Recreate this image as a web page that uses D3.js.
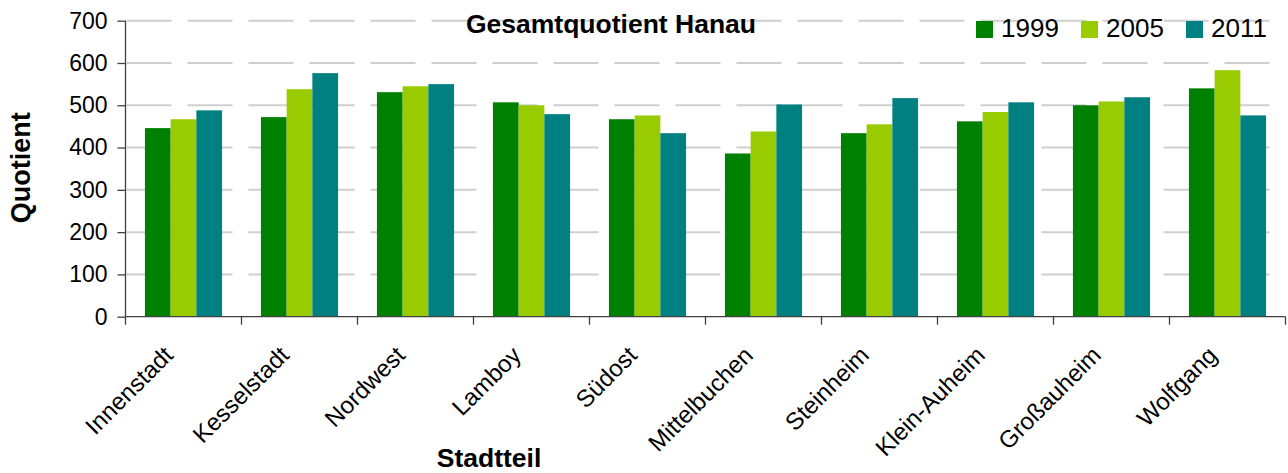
<!DOCTYPE html>
<html>
<head>
<meta charset="utf-8">
<script src="https://cdn.jsdelivr.net/npm/d3@7"></script>
<style>
  body { margin: 0; background: #fff; }
  svg { display: block; font-family: "Liberation Sans", Arial, sans-serif; }
</style>
</head>
<body>
<div id="chart"></div>
<script>
// Gesamtquotient je Stadtteil
const categories = ["Innenstadt", "Kesselstadt", "Nordwest", "Lamboy", "Südost",
  "Mittelbuchen", "Steinheim", "Klein-Auheim", "Großauheim", "Wolfgang"];
const years = ["1999", "2005", "2011"];
const values1999 = [446, 472, 531, 507, 467, 386, 434, 462, 500, 540];
const values2005 = [467, 538, 545, 500, 476, 438, 455, 484, 509, 583];
const values2011 = [488, 576, 550, 479, 434, 502, 517, 507, 519, 476];
const yTicks = [0, 100, 200, 300, 400, 500, 600, 700];
const colors = ["#008000", "#99cc00", "#008080"];

const series = [values1999, values2005, values2011];

const width = 1288, height = 473;
const margin = {top: 20.7, right: 2.5, bottom: 156.3, left: 125.5};

const svg = d3.select("#chart").append("svg")
    .attr("width", width)
    .attr("height", height);

const x0 = d3.scaleBand()
    .domain(categories)
    .range([margin.left, width - margin.right])
    .paddingInner(0.335)
    .paddingOuter(0.1675);

const x1 = d3.scaleBand()
    .domain(years)
    .range([0, x0.bandwidth()]);

const y = d3.scaleLinear()
    .domain([0, 700])
    .range([height - margin.bottom, margin.top]);

const y0 = y(0);
const step = x0.step();

// gridlines
svg.append("g")
  .selectAll("line")
  .data(yTicks.filter(d => d > 0))
  .join("line")
    .attr("x1", margin.left + 1)
    .attr("x2", width - margin.right)
    .attr("y1", d => y(d))
    .attr("y2", d => y(d))
    .attr("stroke", "#cfcfcf")
    .attr("stroke-width", 2)
    .attr("stroke-dasharray", "45,16");

// bars
const groups = svg.append("g")
  .selectAll("g")
  .data(categories)
  .join("g")
    .attr("transform", d => `translate(${x0(d)},0)`);

groups.selectAll("rect")
  .data((c, i) => years.map((yr, k) => ({yr, k, v: series[k][i]})))
  .join("rect")
    .attr("x", d => x1(d.yr))
    .attr("width", x1.bandwidth())
    .attr("y", d => y(d.v))
    .attr("height", d => y0 - y(d.v))
    .attr("fill", d => colors[d.k]);

// y axis
const yAxis = svg.append("g")
    .attr("transform", `translate(${margin.left},0)`)
    .call(d3.axisLeft(y).tickValues(yTicks).tickSize(8).tickPadding(10).tickFormat(d3.format("d")));
yAxis.selectAll("text").attr("font-size", 23).attr("fill", "#000");
yAxis.selectAll("line, path").attr("stroke", "#404040").attr("stroke-width", 1.3);
yAxis.select(".domain").attr("d", `M0,${y(700)}V${y0}`);

// x axis: line plus ticks at category boundaries
const xAxis = svg.append("g");
xAxis.append("line")
    .attr("x1", margin.left).attr("x2", width - margin.right)
    .attr("y1", y0).attr("y2", y0)
    .attr("stroke", "#404040").attr("stroke-width", 1.3);
const bounds = categories.map(c => x0(c) - step * x0.paddingInner() / 2)
    .concat([width - margin.right]);
xAxis.selectAll(".tick")
  .data(bounds)
  .join("line")
    .attr("class", "tick")
    .attr("x1", d => d).attr("x2", d => d)
    .attr("y1", y0).attr("y2", y0 + 8)
    .attr("stroke", "#404040").attr("stroke-width", 1.3);

xAxis.selectAll(".cat")
  .data(categories)
  .join("text")
    .attr("class", "cat")
    .attr("transform", d => `translate(${x0(d) + x0.bandwidth() / 2 - 9},${y0 + 40}) rotate(-45)`)
    .attr("text-anchor", "end")
    .attr("font-size", 24)
    .text(d => d);

// titles
svg.append("text")
    .attr("x", 611).attr("y", 33)
    .attr("text-anchor", "middle")
    .attr("font-size", 26.5).attr("font-weight", "bold")
    .text("Gesamtquotient Hanau");

svg.append("text")
    .attr("x", 489).attr("y", 467)
    .attr("text-anchor", "middle")
    .attr("font-size", 26.5).attr("font-weight", "bold")
    .text("Stadtteil");

svg.append("text")
    .attr("transform", `translate(30,${(y(700) + y0) / 2 - 1}) rotate(-90)`)
    .attr("text-anchor", "middle")
    .attr("font-size", 27).attr("font-weight", "bold")
    .text("Quotient");

// legend
const legend = svg.append("g")
  .selectAll("g")
  .data(years)
  .join("g")
    .attr("transform", (d, i) => `translate(${976 + i * 105},21)`);
legend.append("rect")
    .attr("width", 17).attr("height", 17)
    .attr("fill", (d, i) => colors[i]);
legend.append("text")
    .attr("x", 25).attr("y", 16)
    .attr("font-size", 26)
    .text(d => d);
</script>
</body>
</html>
